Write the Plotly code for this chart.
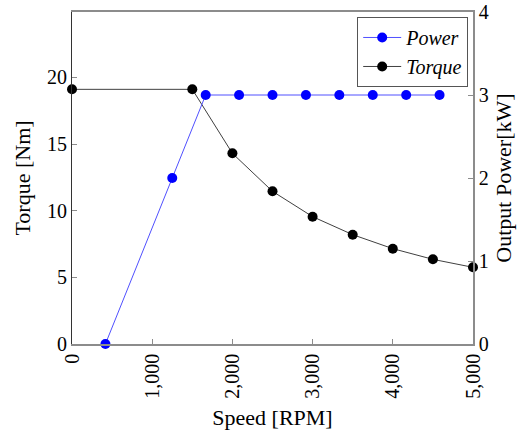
import plotly.graph_objects as go

# Motor operating curves
power_speed = [416.7, 1250, 1666.7, 2083.3, 2500, 2916.7, 3333.3, 3750, 4166.7, 4583.3]
power_kw = [0, 2.0, 3, 3, 3, 3, 3, 3, 3, 3]

torque_speed = [0, 1500, 2000, 2500, 3000, 3500, 4000, 4500, 5000]
torque_nm = [19.1, 19.1, 14.3, 11.45, 9.55, 8.2, 7.15, 6.35, 5.75]

x_ticks = [0, 1000, 2000, 3000, 4000, 5000]
torque_ticks = [0, 5, 10, 15, 20]
power_ticks = [0, 1, 2, 3, 4]

FONT = "Liberation Serif"
AXIS_GRAY = "#8c8c8c"

fig = go.Figure()

fig.add_trace(go.Scatter(
    x=torque_speed, y=torque_nm, name="<i>Torque</i>",
    mode="lines+markers", yaxis="y",
    line=dict(color="#404040", width=1),
    marker=dict(color="black", size=10),
    cliponaxis=False,
))

fig.add_trace(go.Scatter(
    x=power_speed, y=power_kw, name="<i>Power</i>",
    mode="lines+markers", yaxis="y2",
    line=dict(color="#5050ff", width=1),
    marker=dict(color="#0000ff", size=10),
    cliponaxis=False,
))

fig.update_layout(
    width=523, height=439,
    margin=dict(l=71.5, r=50.3, t=12, b=95.3, autoexpand=False),
    paper_bgcolor="white", plot_bgcolor="white",
    font=dict(family=FONT, size=20, color="black"),
    showlegend=True,
    legend=dict(
        x=0.988, y=0.985, xanchor="right", yanchor="top",
        bgcolor="white", bordercolor="#555555", borderwidth=1,
        font=dict(family=FONT, size=20),
        traceorder="reversed",
        itemwidth=38,
        tracegroupgap=0,
    ),
    xaxis=dict(
        range=[0, 5000], tickvals=x_ticks, tickformat=",d",
        tickangle=-90, ticks="inside", ticklen=5, tickcolor=AXIS_GRAY,
        showline=True, linecolor=AXIS_GRAY, linewidth=1.5, mirror=True,
        showgrid=False, zeroline=False, automargin=False,
        title=dict(text="Speed [RPM]", standoff=12, font=dict(size=22)),
    ),
    yaxis=dict(
        range=[0, 24.9], tickvals=torque_ticks,
        ticks="inside", ticklen=5, tickcolor=AXIS_GRAY,
        showline=True, linecolor="#333333", linewidth=1.2,
        showgrid=False, zeroline=False, automargin=False,
        title=dict(text="Torque [Nm]", standoff=10, font=dict(size=22)),
    ),
    yaxis2=dict(
        range=[0, 4], tickvals=power_ticks, overlaying="y", side="right",
        ticks="inside", ticklen=5, tickcolor=AXIS_GRAY,
        showline=True, linecolor=AXIS_GRAY, linewidth=1.5,
        showgrid=False, zeroline=False, automargin=False,
        title=dict(text="Output Power[kW]", standoff=8, font=dict(size=22)),
    ),
)

fig.write_html("out.html")
